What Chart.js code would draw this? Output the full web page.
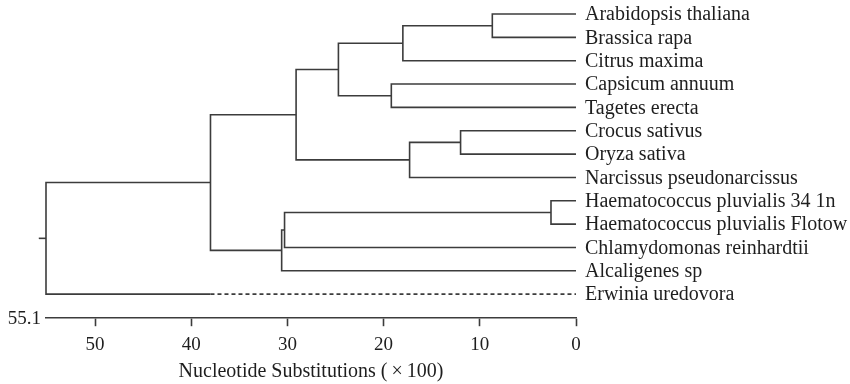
<!DOCTYPE html>
<html>
<head>
<meta charset="utf-8">
<script src="https://cdn.jsdelivr.net/npm/chart.js@4.4.0/dist/chart.umd.min.js"></script>
<style>
  html, body { margin: 0; padding: 0; background: #fff; }
  #wrap { width: 850px; height: 384px; }
</style>
</head>
<body>
<div id="wrap"><canvas id="tree" width="850" height="384"></canvas></div>
<script>
const taxa = [
    'Arabidopsis thaliana',
    'Brassica rapa',
    'Citrus maxima',
    'Capsicum annuum',
    'Tagetes erecta',
    'Crocus sativus',
    'Oryza sativa',
    'Narcissus pseudonarcissus',
    'Haematococcus pluvialis 34 1n',
    'Haematococcus pluvialis Flotow',
    'Chlamydomonas reinhardtii',
    'Alcaligenes sp',
    'Erwinia uredovora'
];

// merges like hclust: negative = leaf (1-based), positive = earlier merge (1-based)
const mergeLeft   = [-9, -1, -6, 3, 2, -4, 5, 7, 1, 9, 8, 11];
const mergeRight  = [-10, -2, -7, -8, -3, -5, 6, 4, -11, -12, 10, -13];
const mergeHeight = [2.6, 8.7, 12.0, 17.3, 18.0, 19.2, 24.7, 29.1, 30.3, 30.6, 38.0, 55.1];

const xTicks = [0, 10, 20, 30, 40, 50];
const rootHeight = 55.1;
const dashFrom = 38.0;   // outgroup branch is dashed from here to the tip

const lineColor = '#3c3c3c';
const textColor = '#1e1e1e';
const serif = "'Liberation Serif', 'DejaVu Serif', serif";

// node positions
const nodeY = [], nodeH = [];
function childPos(c) {
    if (c < 0) return { y: -c - 1, h: 0, leaf: -c - 1 };
    return { y: nodeY[c - 1], h: nodeH[c - 1], leaf: null };
}

const datasets = [];
function seg(points, dashed) {
    datasets.push({
        data: points,
        showLine: true,
        borderColor: lineColor,
        borderWidth: 1.6,
        borderDash: dashed ? [4, 3] : [],
        pointRadius: 0,
        pointHoverRadius: 0,
        tension: 0,
        clip: false
    });
}

mergeHeight.forEach(function(h, i) {
    const a = childPos(mergeLeft[i]);
    const b = childPos(mergeRight[i]);
    let bEnd = b.h;
    if (b.leaf === taxa.length - 1) {
        bEnd = dashFrom;
        seg([{ x: dashFrom, y: b.y }, { x: 0, y: b.y }], true);
    }
    seg([
        { x: a.h, y: a.y },
        { x: h, y: a.y },
        { x: h, y: b.y },
        { x: bEnd, y: b.y }
    ], false);
    nodeY.push((a.y + b.y) / 2);
    nodeH.push(h);
});

// little stub left of the root
const rootY = nodeY[nodeY.length - 1];
seg([{ x: rootHeight, y: rootY }, { x: rootHeight + 0.75, y: rootY }], false);

const labelPlugin = {
    id: 'taxaLabels',
    afterDraw(chart) {
        const ctx = chart.ctx;
        const xs = chart.scales.x, ys = chart.scales.y;
        ctx.save();
        ctx.fillStyle = textColor;
        ctx.font = '20px ' + serif;
        ctx.textBaseline = 'middle';
        ctx.textAlign = 'left';
        const x0 = xs.getPixelForValue(0) + 9;
        taxa.forEach(function(name, i) {
            ctx.fillText(name, x0, ys.getPixelForValue(i) + 1);
        });
        // root height label at the start of the axis
        ctx.font = '19px ' + serif;
        ctx.textAlign = 'right';
        ctx.fillText(String(rootHeight), xs.getPixelForValue(rootHeight) - 5, chart.chartArea.bottom + 1);
        ctx.restore();
    }
};

new Chart(document.getElementById('tree').getContext('2d'), {
    type: 'scatter',
    data: { datasets: datasets },
    options: {
        responsive: false,
        animation: false,
        layout: { padding: { left: 46, right: 274, top: 0, bottom: 0 } },
        plugins: {
            legend: { display: false },
            tooltip: { enabled: false }
        },
        scales: {
            x: {
                type: 'linear',
                reverse: true,
                min: 0,
                max: rootHeight,
                afterBuildTicks: function(scale) {
                    scale.ticks = xTicks.map(function(v) { return { value: v }; });
                },
                grid: {
                    drawOnChartArea: false,
                    drawTicks: true,
                    tickLength: 8,
                    tickWidth: 1.6,
                    color: lineColor
                },
                border: { display: true, color: lineColor, width: 1.6 },
                ticks: {
                    padding: 7,
                    maxRotation: 0,
                    color: textColor,
                    font: { family: serif, size: 19 }
                },
                title: {
                    display: true,
                    text: 'Nucleotide Substitutions (\u2009×\u2009100)',
                    color: textColor,
                    font: { family: serif, size: 20 },
                    padding: { top: -3, bottom: 0 }
                }
            },
            y: {
                type: 'linear',
                display: false,
                reverse: true,
                min: -0.6,
                max: 13.03
            }
        }
    },
    plugins: [labelPlugin]
});
</script>
</body>
</html>
